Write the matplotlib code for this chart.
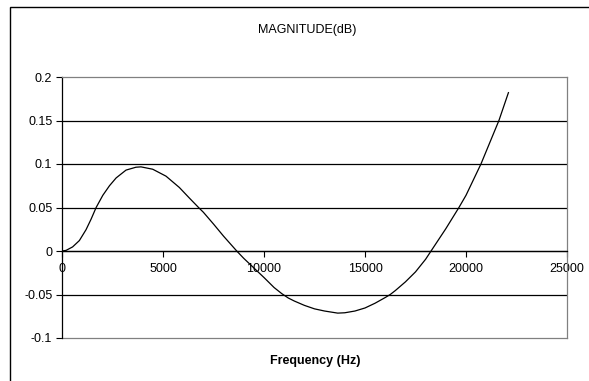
import matplotlib
matplotlib.use("Agg")
import matplotlib.pyplot as plt
from matplotlib.patches import Rectangle
from matplotlib.ticker import FuncFormatter

plt.rcParams['font.family'] = ['Liberation Sans', 'DejaVu Sans']

# magnitude response read at selected frequencies
freq_hz = [0, 200, 525, 860, 1190, 1440, 1690, 2020, 2350, 2680, 3170,
           3660, 3910, 4490, 5150, 5810, 6300, 6760, 7000, 7500, 8000,
           8650, 9000, 9500, 10000, 10500, 10880, 11200, 11500, 12000,
           12500, 13000, 13650, 14000, 14500, 15000, 15500, 16000, 16250,
           16500, 17000, 17500, 18000, 18270, 19000, 19650, 20000, 20740,
           21630, 22100]
mag_db = [0, 0.0007, 0.0047, 0.012, 0.0245, 0.0366, 0.050, 0.064, 0.075,
          0.084, 0.093, 0.0963, 0.0967, 0.094, 0.086, 0.073, 0.061, 0.050,
          0.0445, 0.031, 0.017, 0, -0.0085, -0.0195, -0.0305, -0.042,
          -0.049, -0.054, -0.0575, -0.0625, -0.0665, -0.069, -0.0714, -0.071,
          -0.069, -0.0655, -0.060, -0.0535, -0.050, -0.0455, -0.0355, -0.024,
          -0.0095, 0, 0.0256, 0.050, 0.064, 0.100, 0.150, 0.182]

x_ticks = [0, 5000, 10000, 15000, 20000, 25000]
y_ticks = [-0.1, -0.05, 0, 0.05, 0.1, 0.15, 0.2]
grid_lines = [-0.05, 0, 0.05, 0.1, 0.15]

W, H = 589, 381
fig = plt.figure(figsize=(W / 100, H / 100), dpi=100)

# outer chart frame (runs off the right and bottom edges)
fig.patches.append(Rectangle((10 / W, -0.1), 1.2, 1.1 - 7 / H,
                             transform=fig.transFigure, fill=False,
                             edgecolor='black', linewidth=1.0))

left, right = 62 / W, 567 / W
bottom, top = 1 - 338 / H, 1 - 77 / H
ax = fig.add_axes([left, bottom, right - left, top - bottom])

for y in grid_lines:
    ax.axhline(y, color='black', linewidth=0.9, zorder=1)

ax.plot(freq_hz, mag_db, color='black', linewidth=0.9, zorder=3)

ax.set_xlim(0, 25000)
ax.set_ylim(-0.1, 0.2)
ax.set_xticks(x_ticks)
ax.set_yticks(y_ticks)
ax.yaxis.set_major_formatter(FuncFormatter(lambda v, p: '%g' % round(v, 3)))
ax.xaxis.set_major_formatter(FuncFormatter(lambda v, p: '%d' % v))

# x axis crosses at zero
ax.spines['bottom'].set_position(('data', 0))
ax.spines['bottom'].set_color('black')
ax.spines['bottom'].set_linewidth(0.9)
ax.spines['left'].set_color('black')
ax.spines['left'].set_linewidth(0.9)
for side in ('top', 'right'):
    ax.spines[side].set_color('#808080')
    ax.spines[side].set_linewidth(0.9)
ax.plot([0, 25000], [-0.1, -0.1], color='#808080', linewidth=0.9,
        clip_on=False, zorder=2)

ax.tick_params(axis='x', direction='out', length=4, width=0.8,
               labelsize=9, pad=5)
ax.tick_params(axis='y', direction='out', length=4, width=0.8,
               labelsize=9, pad=3)

fig.text(307 / W, 1 - 30 / H, 'MAGNITUDE(dB)', ha='center', va='center',
         fontsize=9)
fig.text(315 / W, 1 - 361 / H, 'Frequency (Hz)', ha='center', va='center',
         fontsize=9, fontweight='bold')

fig.savefig('out.png', dpi=100)
